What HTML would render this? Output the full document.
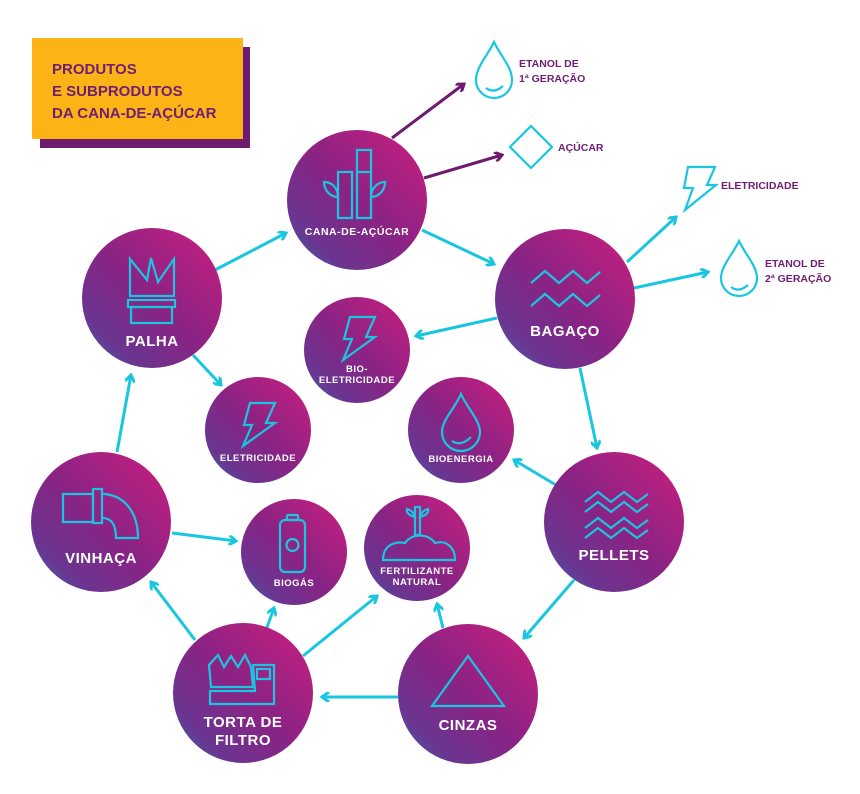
<!DOCTYPE html>
<html><head><meta charset="utf-8"><style>
html,body{margin:0;padding:0;background:#fff}
svg{display:block}
text{font-family:"Liberation Sans",sans-serif;font-weight:bold}
.w{fill:#fff;text-anchor:middle;letter-spacing:0.5px}
.p{fill:#6e1f73}
.ic{fill:none;stroke:#19c6e0;stroke-width:2.2;stroke-linejoin:miter}
.ar{stroke:#19c6e0;stroke-width:3;fill:none}
.ap{stroke:#6e1a6e;stroke-width:3;fill:none}
</style></head><body>
<svg width="860" height="794" viewBox="0 0 860 794">
<defs>
<linearGradient id="g" x1="1" y1="0" x2="0" y2="1">
<stop offset="0" stop-color="#cc1f7e"/>
<stop offset="0.5" stop-color="#8a2384"/>
<stop offset="0.8" stop-color="#6a3590"/>
<stop offset="1" stop-color="#3d6ab0"/>
</linearGradient>
<marker id="mc" markerWidth="10" markerHeight="10" refX="8" refY="5" orient="auto" markerUnits="userSpaceOnUse"><path d="M1,0 L8,5 L1,10" fill="none" stroke="#19c6e0" stroke-width="3"/></marker>
<marker id="mp" markerWidth="10" markerHeight="10" refX="8" refY="5" orient="auto" markerUnits="userSpaceOnUse"><path d="M1,0 L8,5 L1,10" fill="none" stroke="#6e1a6e" stroke-width="3"/></marker>
</defs>

<rect x="40" y="47" width="210" height="101" fill="#6e1a6e"/>
<rect x="32" y="38" width="211" height="101" fill="#fcb316"/>
<text class="p" x="52" y="74" font-size="15">PRODUTOS</text>
<text class="p" x="52" y="96" font-size="15">E SUBPRODUTOS</text>
<text class="p" x="52" y="118" font-size="15">DA CANA-DE-AÇÚCAR</text>

<line class="ap" x1="392" y1="138" x2="464" y2="84" marker-end="url(#mp)"/>
<line class="ap" x1="424" y1="178" x2="502" y2="155" marker-end="url(#mp)"/>
<g marker-end="url(#mc)">
<line class="ar" x1="215" y1="270" x2="286" y2="233"/>
<line class="ar" x1="422" y1="230" x2="494" y2="264"/>
<line class="ar" x1="627" y1="262" x2="676" y2="217"/>
<line class="ar" x1="634" y1="288" x2="708" y2="272"/>
<line class="ar" x1="497" y1="318" x2="416" y2="336"/>
<line class="ar" x1="580" y1="368" x2="597" y2="448"/>
<line class="ar" x1="556" y1="485" x2="514" y2="460"/>
<line class="ar" x1="574" y1="580" x2="524" y2="638"/>
<line class="ar" x1="398" y1="697" x2="322" y2="697"/>
<line class="ar" x1="443" y1="628" x2="437" y2="604"/>
<line class="ar" x1="303" y1="656" x2="377" y2="596"/>
<line class="ar" x1="266" y1="630" x2="274" y2="608"/>
<line class="ar" x1="195" y1="640" x2="151" y2="582"/>
<line class="ar" x1="172" y1="533" x2="236" y2="541"/>
<line class="ar" x1="117" y1="452" x2="131" y2="375"/>
<line class="ar" x1="193" y1="355" x2="221" y2="385"/>
</g>

<g fill="url(#g)">
<circle cx="357" cy="200" r="70"/>
<circle cx="152" cy="298" r="70"/>
<circle cx="565" cy="299" r="70"/>
<circle cx="357" cy="350" r="53"/>
<circle cx="258" cy="430" r="53"/>
<circle cx="461" cy="430" r="53"/>
<circle cx="101" cy="522" r="70"/>
<circle cx="614" cy="522" r="70"/>
<circle cx="294" cy="552" r="53"/>
<circle cx="417" cy="548" r="53"/>
<circle cx="243" cy="693" r="70"/>
<circle cx="468" cy="694" r="70"/>
</g>

<path class="ic" d="M494,42 C488,55 476,67 476,80 A18,18 0 0 0 512,80 C512,67 500,55 494,42 Z"/>
<path class="ic" d="M486,88 Q494,94 503,86"/>
<text class="p" x="519" y="67" font-size="10.5">ETANOL DE</text>
<text class="p" x="519" y="82" font-size="10.5">1ª GERAÇÃO</text>
<path class="ic" d="M531,126 L552,147 L531,168 L510,147 Z"/>
<text class="p" x="558" y="151" font-size="10.5">AÇÚCAR</text>
<path class="ic" d="M688,167 L715,167 L707,185 L716,185 L685,210 L693,188 L684,188 Z"/>
<text class="p" x="721" y="189" font-size="10.5">ELETRICIDADE</text>
<path class="ic" d="M739,241 C733,254 721,266 721,278 A18,18 0 0 0 757,278 C757,266 745,254 739,241 Z"/>
<path class="ic" d="M731,287 Q739,293 748,285"/>
<text class="p" x="765" y="267" font-size="10.5">ETANOL DE</text>
<text class="p" x="765" y="282" font-size="10.5">2ª GERAÇÃO</text>

<rect class="ic" x="338" y="172" width="14" height="46"/>
<rect class="ic" x="357" y="150" width="14" height="68"/>
<line class="ic" x1="357" y1="172" x2="371" y2="172"/>
<path class="ic" d="M338,197 C330,197 324,190 324,182 C332,182 338,188 338,197 Z"/>
<path class="ic" d="M371,197 C379,197 385,190 385,182 C378,182 371,188 371,197 Z"/>
<text class="w" x="357" y="235" font-size="10.5">CANA-DE-AÇÚCAR</text>

<path class="ic" d="M130,259 L147,280 L151,258 L158,282 L174,259 L174,296 L130,296 Z"/>
<rect class="ic" x="128" y="300" width="47" height="7"/>
<rect class="ic" x="131" y="307" width="41" height="16"/>
<text class="w" x="152" y="346" font-size="15">PALHA</text>

<path class="ic" d="M531,283 L545,271 L559,283 L573,271 L587,283 L600,272"/>
<path class="ic" d="M531,306 L545,294 L559,306 L573,294 L587,306 L600,295"/>
<text class="w" x="565" y="336" font-size="15">BAGAÇO</text>

<path class="ic" d="M350,317 L375,317 L366,337 L375,337 L343,360 L352,339 L344,339 Z"/>
<text class="w" x="357" y="372" font-size="9.5">BIO-</text>
<text class="w" x="357" y="383" font-size="9.5">ELETRICIDADE</text>

<path class="ic" d="M250,403 L275,403 L266,423 L275,423 L243,446 L252,425 L244,425 Z"/>
<text class="w" x="258" y="461" font-size="9.5">ELETRICIDADE</text>

<path class="ic" d="M461,394 C455,408 442,420 442,432 A19,19 0 0 0 480,432 C480,420 467,408 461,394 Z"/>
<path class="ic" d="M452,441 Q461,447 471,437"/>
<text class="w" x="461" y="462" font-size="9.5">BIOENERGIA</text>

<rect class="ic" x="63" y="494" width="30" height="28"/>
<rect class="ic" x="93" y="489" width="9" height="34"/>
<path class="ic" d="M102,494 C122,494 138,510 138,538 L116,538 C116,525 112,518 102,518"/>
<text class="w" x="101" y="563" font-size="15">VINHAÇA</text>

<path class="ic" d="M585,502 L598,492 L611,502 L624,492 L637,502 L648,494"/>
<path class="ic" d="M585,512 L598,502 L611,512 L624,502 L637,512 L648,504"/>
<path class="ic" d="M585,528 L598,518 L611,528 L624,518 L637,528 L648,520"/>
<path class="ic" d="M585,538 L598,528 L611,538 L624,528 L637,538 L648,530"/>
<text class="w" x="614" y="560" font-size="15">PELLETS</text>

<rect class="ic" x="280" y="520" width="25" height="52" rx="5"/>
<rect class="ic" x="287" y="515" width="11" height="5" rx="1"/>
<circle class="ic" cx="292.5" cy="545" r="6"/>
<text class="w" x="294" y="586" font-size="9.5">BIOGÁS</text>

<rect class="ic" x="415" y="507" width="5" height="28"/>
<path class="ic" d="M383,560 C383,545 395,541 405,543 C412,533 428,533 435,543 C445,540 455,546 455,560 Z"/>
<path class="ic" d="M415,517 C408,515 406,512 407,509 C411,510 414,513 415,517 Z"/>
<path class="ic" d="M420,517 C427,515 429,512 428,509 C424,510 421,513 420,517 Z"/>
<text class="w" x="417" y="574" font-size="9.5">FERTILIZANTE</text>
<text class="w" x="417" y="585" font-size="9.5">NATURAL</text>

<path class="ic" d="M209,665 L218,655 L224,667 L231,656 L238,667 L245,655 L251,667 L253,687 L211,687 Z"/>
<path class="ic" d="M253,665 L274,665 L274,704 L210,704 L210,691 L255,691 Z"/>
<rect class="ic" x="257" y="669" width="13" height="10"/>
<text class="w" x="243" y="727" font-size="15">TORTA DE</text>
<text class="w" x="243" y="745" font-size="15">FILTRO</text>

<path class="ic" d="M468,656 L504,706 L432,706 Z"/>
<text class="w" x="468" y="730" font-size="15">CINZAS</text>
</svg>
</body></html>
